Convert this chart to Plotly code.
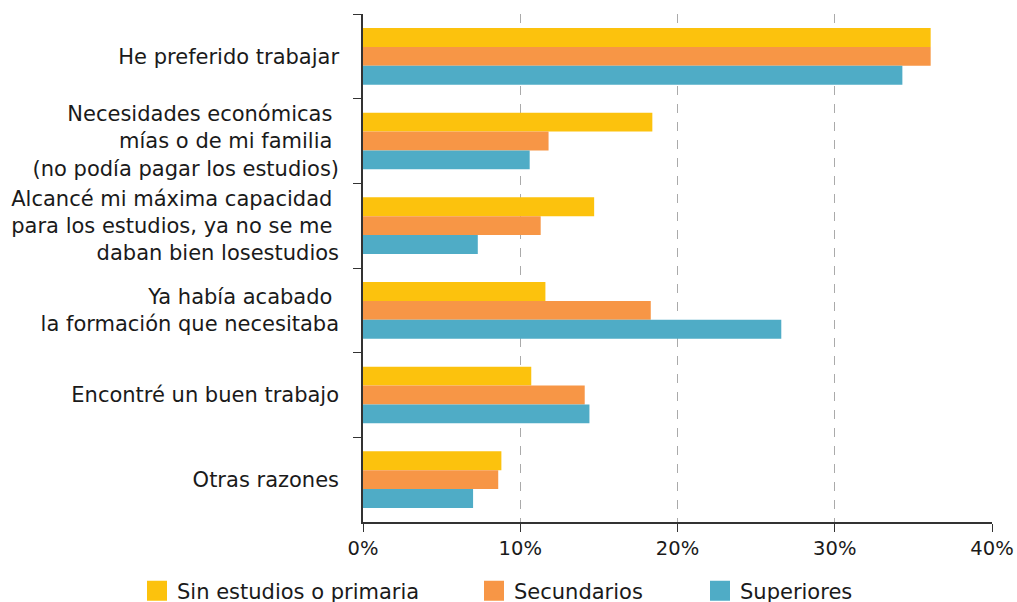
import plotly.graph_objects as go

categories = [
    "He preferido trabajar",
    "Necesidades económicas <br>mías o de mi familia <br>(no podía pagar los estudios)",
    "Alcancé mi máxima capacidad <br>para los estudios, ya no se me <br>daban bien losestudios",
    "Ya había acabado <br>la formación que necesitaba",
    "Encontré un buen trabajo",
    "Otras razones",
]
series_names = ["Sin estudios o primaria", "Secundarios", "Superiores"]
sin_estudios = [36.1, 18.4, 14.7, 11.6, 10.7, 8.8]
secundarios = [36.1, 11.8, 11.3, 18.3, 14.1, 8.6]
superiores = [34.3, 10.6, 7.3, 26.6, 14.4, 7.0]
x_ticks = [0, 10, 20, 30, 40]
x_tick_labels = ["0%", "10%", "20%", "30%", "40%"]

colors = ["#FCC20D", "#F79646", "#4FACC6"]
legend_x = [137, 474, 700]  # left edge of each legend entry, px
font_family = "DejaVu Sans"
fs_y = 21
fs_x = 19.5
fs_leg = 21

fig = go.Figure()
legend_ids = ["legend", "legend2", "legend3"]
for i, (name, vals, col) in enumerate(zip(series_names, [sin_estudios, secundarios, superiores], colors)):
    fig.add_trace(go.Bar(
        y=categories, x=vals, name=name, orientation="h",
        marker=dict(color=col, line=dict(width=0)),
        showlegend=False,
    ))
    fig.add_trace(go.Scatter(
        x=[None], y=[None], mode="markers", name=name,
        marker=dict(symbol="square", size=16, color=col, line=dict(width=4, color=col)),
        showlegend=True, legend=legend_ids[i],
    ))

leg_common = dict(orientation="h", xanchor="left", xref="container",
                  y=0.018, yanchor="middle", yref="container",
                  font=dict(size=fs_leg), itemwidth=30, bgcolor="rgba(0,0,0,0)")
legends = {lid: dict(leg_common, x=lx / 1017) for lid, lx in zip(legend_ids, legend_x)}

fig.update_layout(
    width=1017, height=602,
    margin=dict(l=363, r=25, t=14, b=80, autoexpand=False),
    plot_bgcolor="white", paper_bgcolor="white",
    barmode="group", bargap=0.33, bargroupgap=0,
    font=dict(family=font_family, size=fs_y, color="#1a1a1a"),
    xaxis=dict(range=[0, 40], tickvals=x_ticks, ticktext=x_tick_labels,
               showgrid=True, gridcolor="#aaaaaa", griddash="dash", gridwidth=1,
               showline=True, linecolor="#333333", linewidth=1.5,
               ticks="outside", ticklen=8, tickcolor="#333333",
               zeroline=False, tickfont=dict(size=fs_x), automargin=False),
    yaxis=dict(autorange="reversed", showline=True, linecolor="#333333", linewidth=1.5,
               ticks="outside", ticklen=8, tickcolor="#333333", tickson="boundaries",
               showgrid=False, ticklabelstandoff=18, tickfont=dict(size=fs_y),
               automargin=False),
    **legends,
)

fig.write_html("out.html", config={"displayModeBar": False},
               post_script="document.body.style.margin='0';")
